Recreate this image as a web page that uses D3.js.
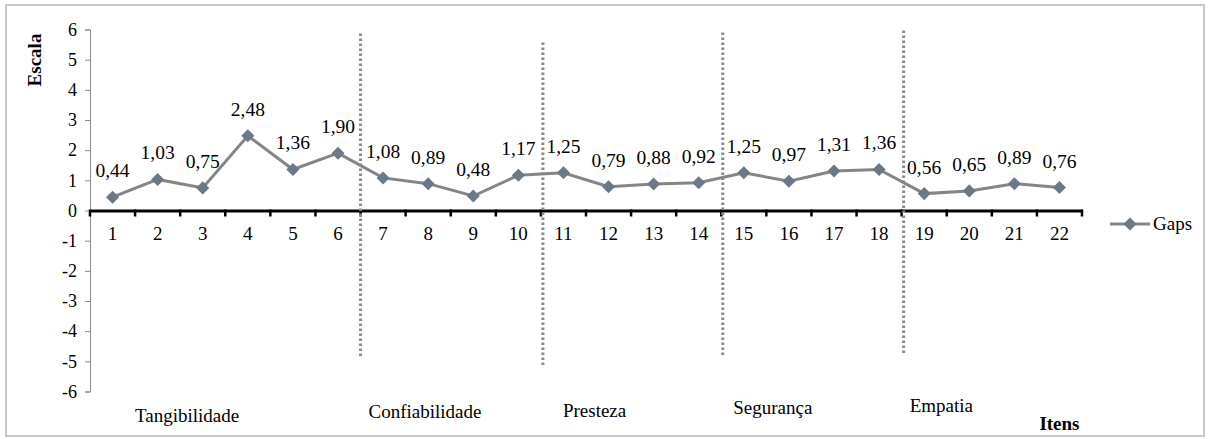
<!DOCTYPE html>
<html>
<head>
<meta charset="utf-8">
<script src="https://cdn.jsdelivr.net/npm/d3@7"></script>
<style>
  html, body { margin: 0; padding: 0; background: #fff; }
</style>
</head>
<body>
<svg id="chart" width="1209" height="439"></svg>
<script>
// Item numbers (1..22) and their gap values
const items = d3.range(1, 23).map(String);
const gaps = [0.44, 1.03, 0.75, 2.48, 1.36, 1.90, 1.08, 0.89, 0.48, 1.17, 1.25,
              0.79, 0.88, 0.92, 1.25, 0.97, 1.31, 1.36, 0.56, 0.65, 0.89, 0.76];
const yTicks = [6, 5, 4, 3, 2, 1, 0, -1, -2, -3, -4, -5, -6];
// Dimension groups: name, first item, last item
const groups = [
  { name: "Tangibilidade", from: 1, to: 6 },
  { name: "Confiabilidade", from: 7, to: 10 },
  { name: "Presteza", from: 11, to: 14 },
  { name: "Segurança", from: 15, to: 18 },
  { name: "Empatia", from: 19, to: 22 }
];
// Items after which a dotted separator is drawn
const separators = [6, 10, 14, 18];

const FONT = "Liberation Serif";
const svg = d3.select("#chart");
const plotLeft = 90, plotRight = 1082, plotTop = 29.5, plotBottom = 391.5;

const x = d3.scaleBand().domain(items).range([plotLeft, plotRight]);
const y = d3.scaleLinear().domain([-6, 6]).range([plotBottom, plotTop]);
const fmt = v => d3.format(".2f")(v).replace(".", ",");

// Layout of hand-placed text boxes and separator lengths
const sepLayout = [
  { dx: 0, top: 5.87, bottom: -4.9 },
  { dx: 2, top: 5.57, bottom: -5.14 },
  { dx: 1.5, top: 5.9, bottom: -4.8 },
  { dx: 2, top: 5.97, bottom: -4.77 }
];
const captionLayout = [
  { dx: 45, baseline: 422 },
  { dx: 8, baseline: 418 },
  { dx: 22, baseline: 417 },
  { dx: 12, baseline: 414 },
  { dx: 8, baseline: 412 }
];

// Outer frame
svg.append("rect")
  .attr("x", 6).attr("y", 5).attr("width", 1198).attr("height", 431)
  .attr("fill", "none").attr("stroke", "#c8c8c8").attr("stroke-width", 2);

// Y axis
const yAxis = svg.append("g")
  .attr("transform", `translate(${plotLeft},0)`)
  .call(d3.axisLeft(y).tickValues(yTicks).tickSize(5).tickPadding(8).tickFormat(d3.format("d")));
yAxis.select(".domain").attr("stroke", "#8c8c8c").attr("stroke-width", 1);
yAxis.selectAll(".tick line").attr("stroke", "#8c8c8c");
yAxis.selectAll("text")
  .style("font-family", FONT).style("font-size", "18px").attr("fill", "#000")
  .text(d => d < 0 ? "-" + Math.abs(d) : d);

svg.append("text")
  .attr("transform", `translate(41,60) rotate(-90)`)
  .attr("text-anchor", "middle")
  .style("font-family", FONT).style("font-size", "19px").style("font-weight", "bold")
  .text("Escala");

// X axis along zero
const xAxis = svg.append("g")
  .attr("transform", `translate(0,${y(0)})`)
  .call(d3.axisBottom(x).tickSize(0).tickPadding(16));
xAxis.select(".domain").attr("stroke", "#000").attr("stroke-width", 3);
xAxis.selectAll("text")
  .style("font-family", FONT).style("font-size", "19px").attr("fill", "#000");

// Tick marks at band boundaries
const bounds = d3.range(0, items.length + 1).map(i => plotLeft + i * x.step());
svg.append("g").selectAll("line").data(bounds).join("line")
  .attr("x1", d => d).attr("x2", d => d)
  .attr("y1", y(0) - 1).attr("y2", y(0) + 6)
  .attr("stroke", "#000").attr("stroke-width", 2.5);

// Dotted separators between dimensions
svg.append("g").selectAll("line").data(separators).join("line")
  .attr("x1", (d, i) => x(String(d)) + x.bandwidth() + sepLayout[i].dx)
  .attr("x2", (d, i) => x(String(d)) + x.bandwidth() + sepLayout[i].dx)
  .attr("y1", (d, i) => y(sepLayout[i].top))
  .attr("y2", (d, i) => y(sepLayout[i].bottom))
  .attr("stroke", "#8a8a8a").attr("stroke-width", 3)
  .attr("stroke-dasharray", "2.5,2.5");

// Series line
const cx = (d, i) => x(items[i]) + x.bandwidth() / 2;
const line = d3.line().x(cx).y(d => y(d));
svg.append("path")
  .datum(gaps)
  .attr("d", line)
  .attr("fill", "none")
  .attr("stroke", "#858585")
  .attr("stroke-width", 3);

// Diamond markers
const diamond = d3.symbol().type(d3.symbolSquare).size(85);
svg.append("g").selectAll("path").data(gaps).join("path")
  .attr("d", diamond)
  .attr("transform", (d, i) => `translate(${cx(d, i)},${y(d)}) rotate(45)`)
  .attr("fill", "#6b7887");

// Value labels
svg.append("g").selectAll("text").data(gaps).join("text")
  .attr("x", cx)
  .attr("y", d => y(d) - 20)
  .attr("text-anchor", "middle")
  .style("font-family", FONT).style("font-size", "19.5px")
  .text(fmt);

// Dimension captions
svg.append("g").selectAll("text").data(groups).join("text")
  .attr("x", (d, i) => x(String(d.from)) + captionLayout[i].dx)
  .attr("y", (d, i) => captionLayout[i].baseline)
  .style("font-family", FONT).style("font-size", "19px")
  .text(d => d.name);

svg.append("text")
  .attr("x", x("22") + x.bandwidth() / 2).attr("y", 430)
  .attr("text-anchor", "middle")
  .style("font-family", FONT).style("font-size", "19px").style("font-weight", "bold")
  .text("Itens");

// Legend
const lg = svg.append("g").attr("transform", "translate(1110,224)");
lg.append("line").attr("x1", 0).attr("x2", 40).attr("stroke", "#858585").attr("stroke-width", 3);
lg.append("path").attr("d", diamond).attr("transform", "translate(20,0) rotate(45)").attr("fill", "#6b7887");
lg.append("text").attr("x", 43).attr("y", 6)
  .style("font-family", FONT).style("font-size", "19px")
  .text("Gaps");
</script>
</body>
</html>
